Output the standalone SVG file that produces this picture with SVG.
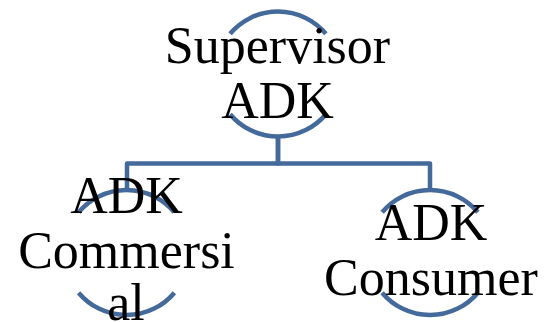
<svg xmlns="http://www.w3.org/2000/svg" width="548" height="322" viewBox="0 0 548 322">
  <style>
    .arc { fill: none; stroke: #44699B; stroke-width: 4.5; }
    .conn { fill: none; stroke: #44699B; stroke-width: 4.5; stroke-linejoin: round; }
    .lbl { font-family: "Liberation Serif", "Times New Roman", serif; font-size: 52px; fill: #000; text-anchor: middle; }
  </style>
  <rect width="548" height="322" fill="#fff"/>
  <g id="connectors">
    <path class="conn" d="M278,137 V163.5 H127 V191"/>
    <path class="conn" d="M278,137 V163.5 H430 V191"/>
  </g>
  <g id="node-supervisor">
    <path class="arc" d="M230.1,114.2 A62.5,62.5 0 0 0 325.9,114.2"/>
    <path class="arc" d="M230.1,33.8 A62.5,62.5 0 0 1 325.9,33.8"/>
    <text class="lbl" x="277.5" y="63">Supervisor</text>
    <text class="lbl" x="277.5" y="118">ADK</text>
  </g>
  <g id="node-commersial">
    <path class="arc" d="M78.6,212.3 A62.5,62.5 0 0 1 174.4,212.3"/>
    <path class="arc" d="M78.6,292.7 A62.5,62.5 0 0 0 174.4,292.7"/>
    <text class="lbl" x="126.5" y="213">ADK</text>
    <text class="lbl" x="126.5" y="268">Commersi</text>
    <text class="lbl" x="126" y="320">al</text>
  </g>
  <g id="node-consumer">
    <path class="arc" d="M382.1,212.3 A62.5,62.5 0 0 1 477.9,212.3"/>
    <path class="arc" d="M382.1,292.7 A62.5,62.5 0 0 0 477.9,292.7"/>
    <text class="lbl" x="431" y="240">ADK</text>
    <text class="lbl" x="431" y="295">Consumer</text>
  </g>
</svg>
